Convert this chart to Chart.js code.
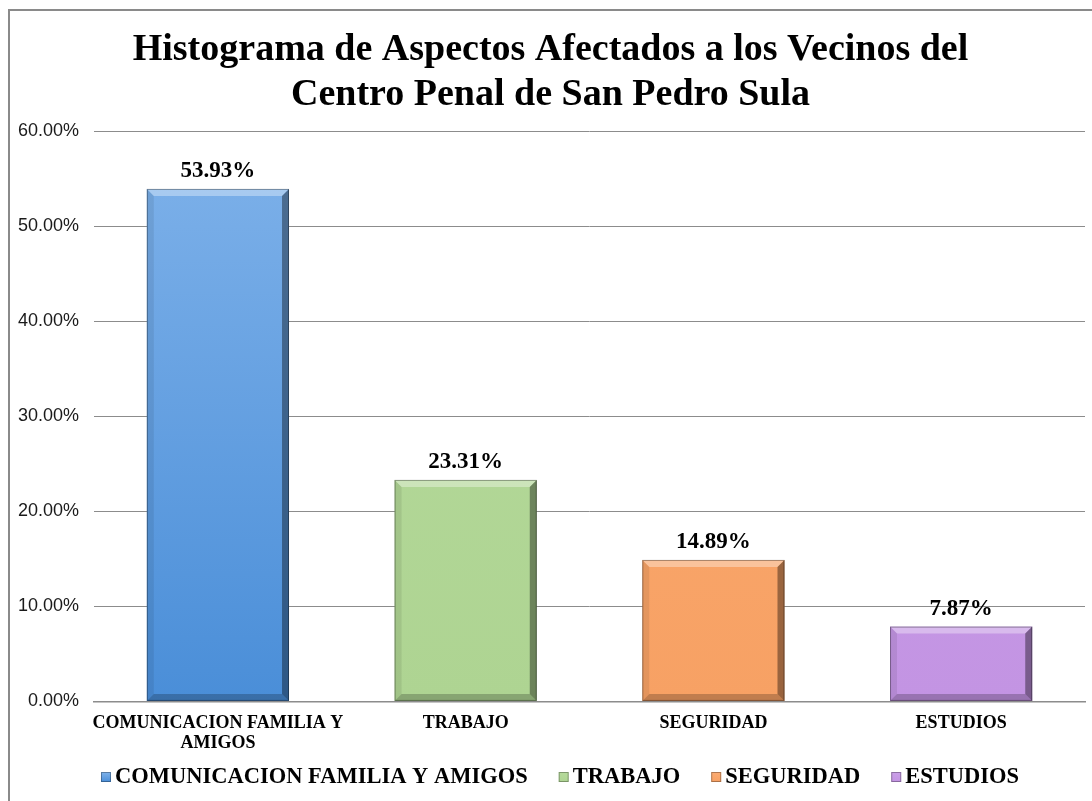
<!DOCTYPE html>
<html>
<head>
<meta charset="utf-8">
<script src="https://cdn.jsdelivr.net/npm/chart.js@4"></script>
<style>
  html, body { margin: 0; padding: 0; background: #fff; }
  #wrap { position: relative; width: 1092px; height: 801px; }
  #frame { position: absolute; left: 8px; top: 9px; width: 1100px; height: 820px;
           border-left: 2px solid #8a8a8a; border-top: 2px solid #8a8a8a; pointer-events: none; }
</style>
</head>
<body>
<div id="wrap">
  <canvas id="barChart"></canvas>
  <div id="frame"></div>
</div>
<script>
const categories = [['COMUNICACION FAMILIA Y', 'AMIGOS'], 'TRABAJO', 'SEGURIDAD', 'ESTUDIOS'];
const legendNames = ['COMUNICACION FAMILIA Y AMIGOS', 'TRABAJO', 'SEGURIDAD', 'ESTUDIOS'];
const percentages = [53.93, 23.31, 14.89, 7.87];
const yTicks = [0, 10, 20, 30, 40, 50, 60];

// top / bottom shades for each bar
const topColors = ['#7fb2ea', '#b6da9c', '#fbab72', '#ca9fe8'];
const bottomColors = ['#4a8ed8', '#aed492', '#f7a164', '#c394e3'];

const serif = '"Liberation Serif", "Times New Roman", serif';

function barFill(ctx) {
  const chart = ctx.chart;
  const area = chart.chartArea;
  if (!area) return bottomColors[ctx.dataIndex];
  const g = chart.ctx.createLinearGradient(0, area.top, 0, area.bottom);
  g.addColorStop(0, topColors[ctx.dataIndex]);
  g.addColorStop(1, bottomColors[ctx.dataIndex]);
  return g;
}

// bevelled edges like the office 3-D bar style
const bevelPlugin = {
  id: 'bevel',
  afterDatasetsDraw(chart) {
    const c = chart.ctx;
    const meta = chart.getDatasetMeta(0);
    const b = 7;
    meta.data.forEach((bar) => {
      const l = bar.x - bar.width / 2, r = bar.x + bar.width / 2;
      const t = bar.y, btm = bar.base;
      c.save();
      c.fillStyle = 'rgba(255,255,255,0.35)';
      c.beginPath(); c.moveTo(l, t); c.lineTo(r, t); c.lineTo(r - b, t + b); c.lineTo(l + b, t + b); c.closePath(); c.fill();
      c.fillStyle = 'rgba(0,0,0,0.08)';
      c.beginPath(); c.moveTo(l, t); c.lineTo(l + b, t + b); c.lineTo(l + b, btm - b); c.lineTo(l, btm); c.closePath(); c.fill();
      c.fillStyle = 'rgba(0,0,0,0.38)';
      c.beginPath(); c.moveTo(r, t); c.lineTo(r, btm); c.lineTo(r - b, btm - b); c.lineTo(r - b, t + b); c.closePath(); c.fill();
      c.fillStyle = 'rgba(0,0,0,0.22)';
      c.beginPath(); c.moveTo(l, btm); c.lineTo(r, btm); c.lineTo(r - b, btm - b); c.lineTo(l + b, btm - b); c.closePath(); c.fill();
      c.strokeStyle = 'rgba(0,0,0,0.35)';
      c.lineWidth = 1;
      c.strokeRect(l + 0.5, t + 0.5, bar.width - 1, btm - t - 1);
      c.restore();
    });
  }
};

const valueLabels = {
  id: 'valueLabels',
  afterDatasetsDraw(chart) {
    const c = chart.ctx;
    const meta = chart.getDatasetMeta(0);
    c.save();
    c.font = 'bold 23px ' + serif;
    c.fillStyle = '#000';
    c.textAlign = 'center';
    c.textBaseline = 'bottom';
    meta.data.forEach((bar, i) => {
      c.fillText(percentages[i].toFixed(2) + '%', bar.x, bar.y - 6);
    });
    c.restore();
  }
};

// legend row drawn by hand so the box/text spacing matches the original
const bottomLegend = {
  id: 'bottomLegend',
  afterDraw(chart) {
    const c = chart.ctx;
    const box = 10, gap = 4, spacing = 31, y = 777;
    c.save();
    c.font = 'bold 22.5px ' + serif;
    c.textBaseline = 'middle';
    const widths = legendNames.map(n => c.measureText(n).width);
    const total = widths.reduce((s, w) => s + box + gap + w, 0) + spacing * (legendNames.length - 1);
    let x = 560 - total / 2;
    legendNames.forEach((name, i) => {
      const g = c.createLinearGradient(0, y - box / 2, 0, y + box / 2);
      g.addColorStop(0, topColors[i]);
      g.addColorStop(1, bottomColors[i]);
      c.fillStyle = g;
      c.fillRect(x, y - box / 2, box, box);
      c.strokeStyle = 'rgba(0,0,0,0.3)';
      c.lineWidth = 1;
      c.strokeRect(x + 0.5, y - box / 2 + 0.5, box - 1, box - 1);
      c.fillStyle = '#000';
      c.fillText(name, x + box + gap, y);
      x += box + gap + widths[i] + spacing;
    });
    c.restore();
  }
};

new Chart(document.getElementById('barChart'), {
  type: 'bar',
  data: {
    labels: categories,
    datasets: [{
      data: percentages,
      backgroundColor: barFill,
      borderWidth: 0,
      categoryPercentage: 1,
      barPercentage: 0.574
    }]
  },
  options: {
    responsive: true,
    maintainAspectRatio: false,
    animation: false,
    // a bit of extra left padding moves the title right; the y axis gives it back
    layout: { autoPadding: false, padding: { left: 16, right: 7, top: 12, bottom: 44 } },
    plugins: {
      title: {
        display: true,
        text: ['Histograma de Aspectos Afectados a los Vecinos del', 'Centro Penal de San Pedro Sula'],
        font: { family: serif, size: 38, weight: 'bold', lineHeight: 1.2 },
        color: '#000',
        padding: { top: 15, bottom: 13 }
      },
      legend: { display: false },
      tooltip: { enabled: false }
    },
    scales: {
      y: {
        min: 0,
        max: 60,
        afterBuildTicks: (axis) => { axis.ticks = yTicks.map(v => ({ value: v })); },
        afterFit: (axis) => { axis.width -= 13; },
        grid: { color: '#8c8c8c', drawTicks: false },
        border: { display: false },
        ticks: {
          padding: 15,
          color: '#1a1a1a',
          font: { family: '"Liberation Sans", Arial, sans-serif', size: 18 },
          callback: v => v.toFixed(2) + '%'
        }
      },
      x: {
        grid: { display: false },
        border: { color: '#8c8c8c', width: 1.5 },
        ticks: {
          padding: 4,
          color: '#000',
          maxRotation: 0,
          autoSkip: false,
          font: { family: serif, size: 18, weight: 'bold', lineHeight: 1.1 }
        }
      }
    }
  },
  plugins: [bevelPlugin, valueLabels, bottomLegend]
});
</script>
</body>
</html>
